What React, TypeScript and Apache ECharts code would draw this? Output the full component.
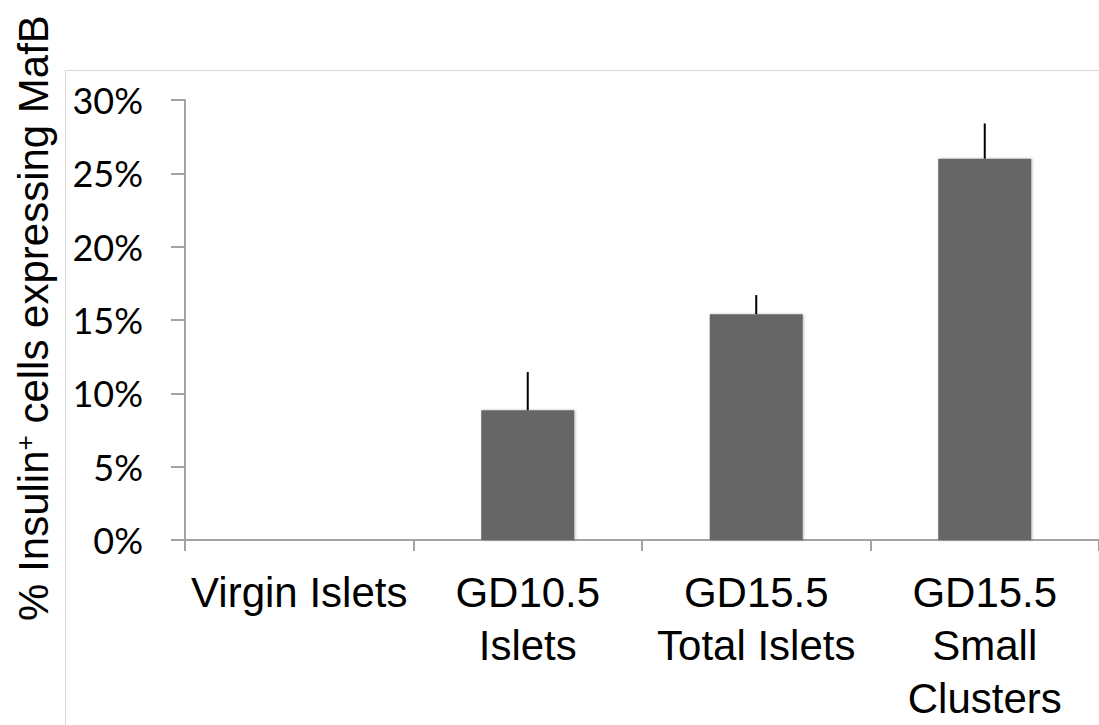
import React, { useEffect, useRef } from "react";
import * as echarts from "echarts";

const categories = ["Virgin Islets", "GD10.5\nIslets", "GD15.5\nTotal Islets", "GD15.5\nSmall\nClusters"];
const values = [0, 0.0885, 0.154, 0.26];
const errorUpper = [0, 0.1145, 0.167, 0.284];
const yTitle = "% Insulin{sup|+} cells expressing MafB";

export default function App() {
  const ref = useRef<HTMLDivElement>(null);
  useEffect(() => {
    if (!ref.current) return;
    const chart = echarts.init(ref.current, null, { renderer: "svg" });
    const axisColor = "#a3a3a3";
    chart.setOption({
      animation: false,
      backgroundColor: "#ffffff",
      graphic: [
        {
          type: "rect",
          shape: { x: 65.5, y: 70.5, width: 1100, height: 700 },
          style: { fill: "none", stroke: "#d9d9d9", lineWidth: 1 },
          silent: true,
        },
        {
          type: "text",
          x: 33,
          y: 318,
          rotation: Math.PI / 2,
          style: {
            text: yTitle,
            font: '42px "Liberation Sans", Arial, sans-serif',
            fill: "#000",
            align: "center",
            verticalAlign: "middle",
            rich: {
              sup: {
                fontSize: 26,
                fontFamily: '"Liberation Sans", Arial, sans-serif',
                verticalAlign: "top",
                fill: "#000",
              },
            },
          },
        },
      ],
      grid: { left: 185, top: 100, width: 924, height: 442, containLabel: false },
      xAxis: {
        type: "category",
        data: categories,
        axisLine: { show: true, lineStyle: { color: axisColor, width: 2 } },
        axisTick: { show: true, length: 11, interval: 0, lineStyle: { color: axisColor, width: 2 } },
        axisLabel: {
          interval: 0,
          margin: 26,
          fontSize: 42,
          lineHeight: 53,
          color: "#000",
          fontFamily: '"Liberation Sans", Arial, sans-serif',
        },
        splitLine: { show: false },
      },
      yAxis: {
        type: "value",
        min: 0,
        max: 0.3,
        interval: 0.05,
        axisLine: { show: true, lineStyle: { color: axisColor, width: 2 } },
        axisTick: { show: true, length: 14, lineStyle: { color: axisColor, width: 2 } },
        axisLabel: {
          margin: 42,
          fontSize: 36,
          color: "#000",
          fontFamily: "Lato, sans-serif",
          formatter: (v: number) => Math.round(v * 100) + "%",
        },
        splitLine: { show: false },
      },
      series: [
        {
          type: "bar",
          data: values,
          barWidth: 93,
          itemStyle: {
            color: "#666666",
            shadowColor: "rgba(0,0,0,0.25)",
            shadowBlur: 3,
            shadowOffsetX: 1,
          },
        },
        {
          type: "custom",
          data: values.map((v, i) => [i, v, errorUpper[i]]),
          renderItem: (params: any, api: any) => {
            const lo = api.coord([api.value(0), api.value(1)]);
            const hi = api.coord([api.value(0), api.value(2)]);
            if (Math.abs(hi[1] - lo[1]) < 0.5) return null;
            return {
              type: "line",
              shape: { x1: lo[0], y1: lo[1], x2: hi[0], y2: hi[1] },
              style: { stroke: "#000", lineWidth: 2 },
            };
          },
          z: 5,
        },
      ],
    });
    return () => chart.dispose();
  }, []);
  return (
    <div
      ref={ref}
      style={{ position: "fixed", left: 0, top: 0, width: 1099, height: 725, background: "#fff" }}
    />
  );
}
